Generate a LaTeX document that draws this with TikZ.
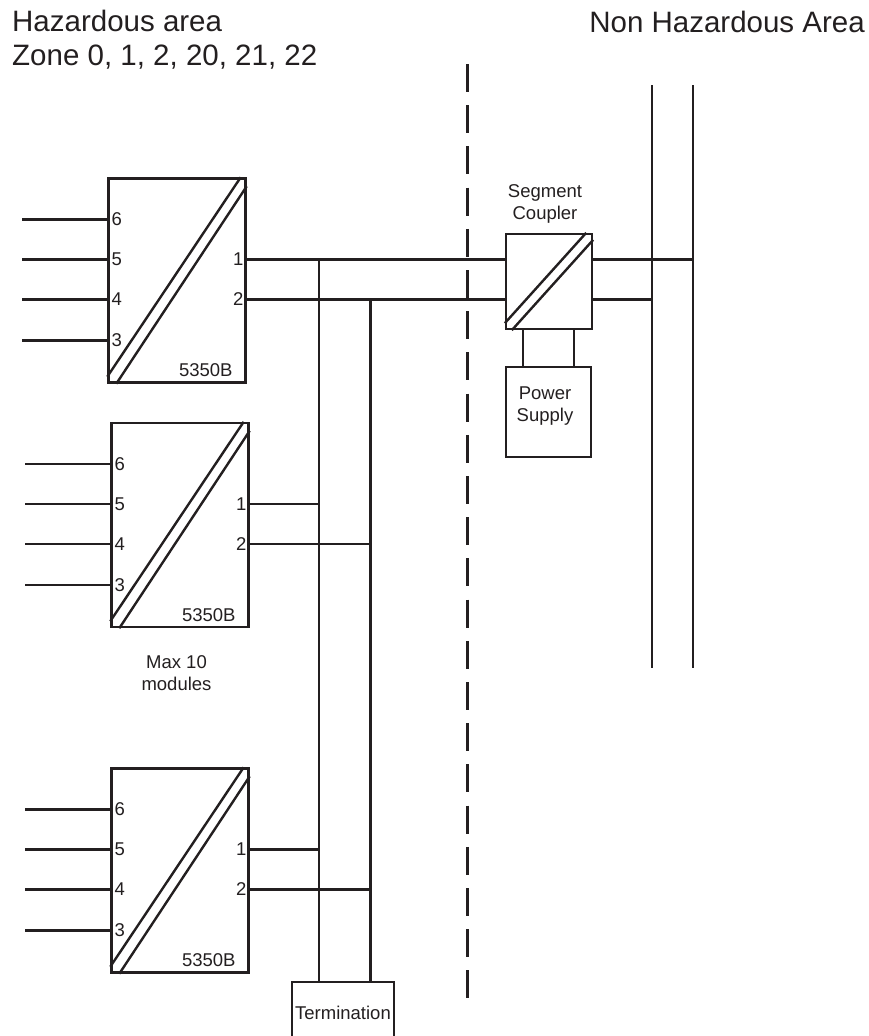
\documentclass[tikz,border=0pt]{standalone}
\usepackage{fontspec}
\setmainfont{Liberation Sans}
\usetikzlibrary{positioning,calc}
\definecolor{ink}{HTML}{231F20}
\tikzset{
  wire/.style={draw=ink,line width=2.4pt},
  box/.style={draw=ink,line width=2.4pt,inner sep=0pt},
  unit/.style={box,minimum width=137pt,minimum height=204pt},
  small/.style={font=\fontsize{18.5}{22}\selectfont,text=ink,inner sep=0pt},
  big/.style={font=\fontsize{29.5}{34}\selectfont,text=ink,inner sep=0pt},
  sepline/.style={draw=ink,line width=3pt,dash pattern=on 28pt off 13.2pt},
}
\begin{document}
\begin{tikzpicture}[x=1pt,y=-1pt]
  \useasboundingbox (0,0) rectangle (869,1036);
  % area titles
  \node[big,anchor=base west] (haz) at (12,31) {Hazardous area};
  \node[big,anchor=base west] (zone) at (12,65) {Zone 0, 1, 2, 20, 21, 22};
  \node[big,anchor=base east] (nonhaz) at (865,32) {Non Hazardous Area};
  % zone border
  \coordinate (sep-top) at (467,64);
  \coordinate (sep-bot) at (467,1000);
  \draw[sepline] (sep-top) -- (sep-bot);
  % termination and bus
  \node[box,small,minimum width=102pt,minimum height=62pt,anchor=north] (term) at (343,981) {Termination};
  \coordinate (b1) at ([xshift=-24pt]term.north);
  \coordinate (b2) at ([xshift=27.5pt]term.north);
  % modules
  \foreach \m/\x/\y in {m1/177/280.5, m2/180/525, m3/180/870.5} {
    \node[unit] (\m) at (\x,\y) {};
    \draw[wire] ([yshift=7pt]\m.south west) -- ([xshift=-6pt]\m.north east);
    \draw[wire] ([xshift=9pt]\m.south west) -- ([yshift=-9pt]\m.north east);
    \node[small,anchor=base east] (\m-type) at ([xshift=-14pt,yshift=7pt]\m.south east) {5350B};
    \foreach \p/\d in {6/42,5/82,4/122,3/163}
      \draw[wire] ([yshift=-\d pt]\m.north west) node[small,anchor=west,xshift=3pt] (\m-in\p) {\p} -- ++(-85,0);
    \coordinate (\m-o1) at ([yshift=-82pt]\m.north east);
    \coordinate (\m-o2) at ([yshift=-122pt]\m.north east);
    \node[small,anchor=east,xshift=-3pt] (\m-out1) at (\m-o1) {1};
    \node[small,anchor=east,xshift=-3pt] (\m-out2) at (\m-o2) {2};
  }
  \node[small,align=center] (maxmod) at (176.5,673) {Max 10\\modules};
  % segment coupler and power supply
  \node[box,minimum width=86pt,minimum height=95pt] (sc) at (549,281.5) {};
  \draw[wire] ([yshift=7pt]sc.south west) -- ([xshift=-7pt]sc.north east);
  \draw[wire] ([xshift=7pt]sc.south west) -- ([yshift=-7pt]sc.north east);
  \node[small,align=center,anchor=south] (sclabel) at (545,224) {Segment\\Coupler};
  \node[box,minimum width=85pt,minimum height=90pt] (ps) at (548.5,412) {};
  \node[small,align=center] (pslabel) at (545,406) {Power\\Supply};
  \draw[wire] ([xshift=-26pt]sc.south) -- ([xshift=-25.5pt]ps.north);
  \draw[wire] ([xshift=25pt]sc.south) -- ([xshift=25.5pt]ps.north);
  % host bus
  \coordinate (rb1top) at (652,85);
  \coordinate (rb1bot) at (652,668);
  \coordinate (rb2top) at (693,85);
  \coordinate (rb2bot) at (693,668);
  \draw[wire] (rb1top) -- (rb1bot);
  \draw[wire] (rb2top) -- (rb2bot);
  % wiring
  \draw[wire] (m1-o1) -- (m1-o1 -| sc.west);
  \draw[wire] (m1-o2) -- (m1-o2 -| sc.west);
  \draw[wire] (m1-o1 -| sc.east) -- (m1-o1 -| rb2top);
  \draw[wire] (m1-o2 -| sc.east) -- (m1-o2 -| rb1top);
  \foreach \m in {m2,m3} {
    \draw[wire] (\m-o1) -- (\m-o1 -| b1);
    \draw[wire] (\m-o2) -- (\m-o2 -| b2);
  }
  \draw[wire] (b1 |- m1-o1) -- (b1);
  \draw[wire] (b2 |- m1-o2) -- (b2);
\end{tikzpicture}
\end{document}
